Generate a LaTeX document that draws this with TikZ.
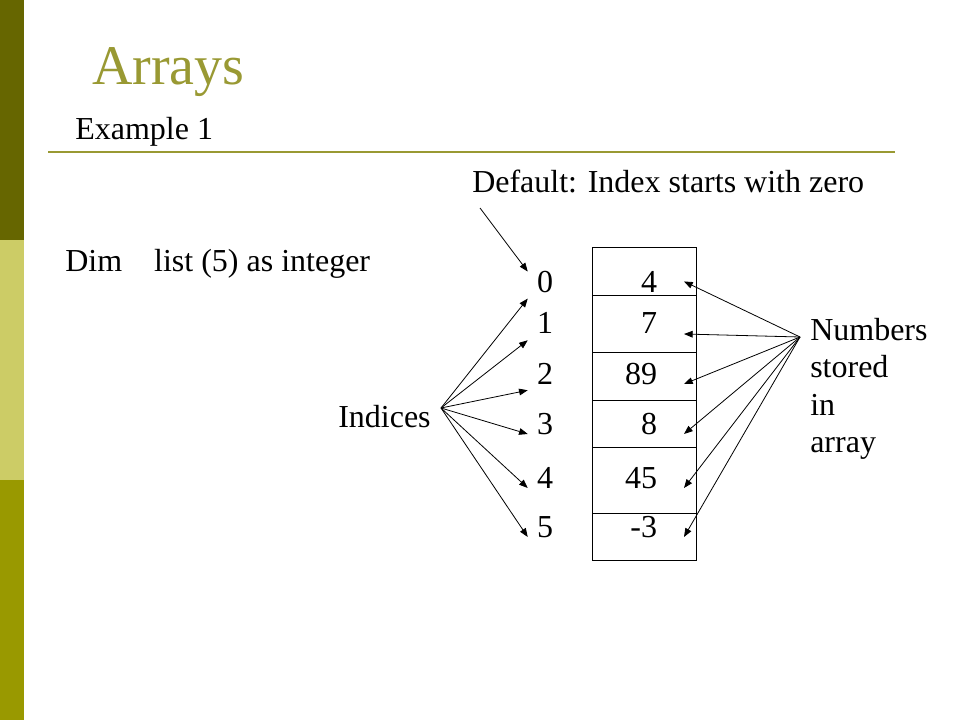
\documentclass[tikz,border=0pt]{standalone}
\usepackage{fontspec}
\setmainfont{Liberation Serif}
\usetikzlibrary{arrows.meta}
\definecolor{barDark}{RGB}{102,102,0}
\definecolor{barLight}{RGB}{204,204,102}
\definecolor{barMid}{RGB}{153,153,0}
\definecolor{titleOlive}{RGB}{153,153,51}
\begin{document}
\begin{tikzpicture}[x=0.75pt,y=-0.75pt,txt/.style={font=\fontsize{24}{28}\selectfont, inner sep=0pt, anchor=base west},idx/.style={txt, anchor=base, inner xsep=6.75pt, inner ysep=4.5pt},val/.style={txt, anchor=base east, inner xsep=20pt},cell/.style={draw, line width=0.75pt},arr/.style={-{Triangle[length=6.5pt,width=5pt]}, line width=0.6pt}]
\useasboundingbox (0,0) rectangle (960,720);
% side bar
\fill[barDark] (0,0) rectangle (24,240);
\fill[barLight] (0,240) rectangle (24,480);
\fill[barMid] (0,480) rectangle (24,720);
% heading
\node[txt, font=\fontsize{42}{48}\selectfont, text=titleOlive] (title) at (92,85) {Arrays};
\node[txt] (ex) at (75,140) {Example 1};
\draw[titleOlive, line width=1.6pt] (48,152) -- (895,152);
\node[txt] (def) at (472,193) {Default: Index starts with zero};
\node[txt] (dim) at (65,272) {Dim\hspace{24pt}list (5) as integer};
\node[txt] (ind) at (338,427) {Indices};
\node[txt, align=left, anchor=north west] (num) at (810,318) {Numbers\\stored\\in\\array};
\coordinate (defTail) at (480,208);
\coordinate (fanL) at (441,408);
\coordinate (fanR) at (800,337);
% array cells
\draw[cell] (592,248) rectangle (696,560);
\foreach \y in {296,352,400,447,513}
  \draw[cell] (592,\y) -- (696,\y);
% indices and values
\foreach \n/\b/\v in {0/292/4,1/334/7,2/384/89,3/434/8,4/488/45,5/537/-3}{
  \node[idx] (i\n) at (545,\b) {\n};
  \node[val] (v\n) at (684,\b) {\v};
}
\draw[arr] (defTail) -- (i0.150);
\foreach \n/\a in {0/south west,1/south west,2/south west,3/base west,4/base west,5/base west}
  \draw[arr] (fanL) -- (i\n.\a);
\foreach \n/\a in {0/east,1/base east,2/base east,3/base east,4/base east,5/base east}
  \draw[arr] (fanR) -- (v\n.\a);
\end{tikzpicture}
\end{document}
